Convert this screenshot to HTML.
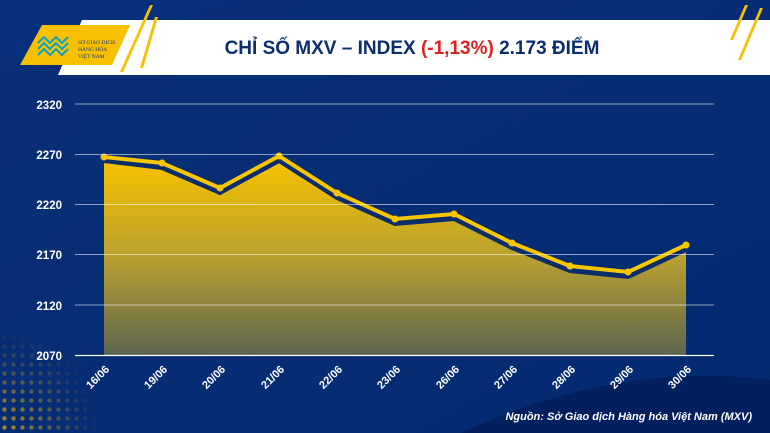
<!DOCTYPE html>
<html><head><meta charset="utf-8"><style>
html,body{margin:0;padding:0;width:770px;height:433px;overflow:hidden;background:#042a6e;}
svg{display:block}
</style></head><body>
<svg width="770" height="433" viewBox="0 0 770 433" xmlns="http://www.w3.org/2000/svg">
<defs>
<linearGradient id="bg" x1="0" y1="0" x2="1" y2="1">
<stop offset="0" stop-color="#0a2f78"/><stop offset="1" stop-color="#032a70"/></linearGradient>
<linearGradient id="fill" x1="0" y1="0" x2="0" y2="1">
<stop offset="0" stop-color="#f7c200"/><stop offset="0.5" stop-color="#b8a030"/><stop offset="1" stop-color="#5e6650"/></linearGradient>
<radialGradient id="dots" cx="0" cy="1" r="1"><stop offset="0" stop-color="#f5b800"/><stop offset="1" stop-color="#f5b800" stop-opacity="0"/></radialGradient>
<pattern id="dp" width="9" height="9" patternUnits="userSpaceOnUse"><circle cx="4.5" cy="4.5" r="2.2" fill="#f5b800"/></pattern>
<mask id="dm"><rect x="0" y="330" width="100" height="103" fill="url(#dots)"/></mask>
</defs>
<rect width="770" height="433" fill="url(#bg)"/>
<path d="M0 0 L240 0 Q120 50 0 60 Z" fill="#08317e" opacity="0.6"/>
<path d="M460 433 Q620 360 770 380 L770 433 Z" fill="#021f5e"/>
<rect x="0" y="330" width="100" height="103" fill="url(#dp)" mask="url(#dm)"/>
<!-- title band -->
<polygon points="82,20 770,20 770,75 58,75" fill="#fff"/>
<polygon points="42,25 130,25 112,65 20,65" fill="#f7c000"/>
<polygon points="120,72 150,5 153,5 123,72" fill="#f7c000"/>
<polygon points="140,68 155,17 158,17 143,68" fill="#f7c000"/>
<polygon points="730,40 745,5 748,5 733,40" fill="#f7c000"/>
<polygon points="738,60 760,8 763,8 741,60" fill="#f7c000"/>
<g fill="none" stroke="#0aa3c8" stroke-width="2">
<path d="M38 43 l6 -6 l6 6 l6 -6 l6 6 l6 -6"/><path d="M38 49 l6 -6 l6 6 l6 -6 l6 6 l6 -6"/><path d="M38 55 l6 -6 l6 6 l6 -6 l6 6 l6 -6"/></g>
<text x="78" y="44" font-family="Liberation Serif,serif" font-size="5.5" fill="#1a3a7a">SỞ GIAO DỊCH</text>
<text x="78" y="51" font-family="Liberation Serif,serif" font-size="5.5" fill="#1a3a7a">HÀNG HÓA</text>
<text x="78" y="58" font-family="Liberation Serif,serif" font-size="5.5" fill="#1a3a7a">VIỆT NAM</text>
<text x="412" y="54" text-anchor="middle" font-family="Liberation Sans,sans-serif" font-weight="bold" font-size="19" fill="#0b2e6e">CHỈ SỐ MXV – INDEX <tspan fill="#e0201e">(-1,13%)</tspan> 2.173 ĐIỂM</text>
<!-- area -->
<polygon points="104,161 162,168 220,193 279,161 337,198 395,224 454,219 512,248 570,271 628,277 686,250 686,355 104,355" fill="url(#fill)"/>
<polyline points="104,161 162,168 220,193 279,161 337,198 395,224 454,219 512,248 570,271 628,277 686,250" fill="none" stroke="#0c2c6a" stroke-width="4"/>
<polyline points="104,157 162,163 220,188 279,156 337,193 395,219 454,214 512,243 570,266 628,272 686,245" fill="none" stroke="#f7c600" stroke-width="4"/>
<g fill="#f7c600"><circle cx="104" cy="157" r="3.5"/><circle cx="162" cy="163" r="3.5"/><circle cx="220" cy="188" r="3.5"/><circle cx="279" cy="156" r="3.5"/><circle cx="337" cy="193" r="3.5"/><circle cx="395" cy="219" r="3.5"/><circle cx="454" cy="214" r="3.5"/><circle cx="512" cy="243" r="3.5"/><circle cx="570" cy="266" r="3.5"/><circle cx="628" cy="272" r="3.5"/><circle cx="686" cy="245" r="3.5"/></g>
<!-- grid -->
<g stroke="#fff" stroke-width="1" opacity="0.55"><line x1="75" y1="104" x2="714" y2="104"/><line x1="75" y1="154.5" x2="714" y2="154.5"/><line x1="75" y1="204.5" x2="714" y2="204.5"/><line x1="75" y1="254.5" x2="714" y2="254.5"/><line x1="75" y1="305" x2="714" y2="305"/></g>
<line x1="75" y1="355.5" x2="714" y2="355.5" stroke="#fff" stroke-width="1.2"/>
<g font-family="Liberation Sans,sans-serif" font-weight="bold" font-size="11.5" fill="#fff" text-anchor="end">
<text x="62" y="109">2320</text><text x="62" y="159">2270</text><text x="62" y="209">2220</text><text x="62" y="259">2170</text><text x="62" y="310">2120</text><text x="62" y="360">2070</text></g>
<g font-family="Liberation Sans,sans-serif" font-weight="bold" font-size="11" fill="#fff" text-anchor="end">
<text transform="translate(110,370) rotate(-45)">16/06</text>
<text transform="translate(168,370) rotate(-45)">19/06</text>
<text transform="translate(226,370) rotate(-45)">20/06</text>
<text transform="translate(285,370) rotate(-45)">21/06</text>
<text transform="translate(343,370) rotate(-45)">22/06</text>
<text transform="translate(401,370) rotate(-45)">23/06</text>
<text transform="translate(460,370) rotate(-45)">26/06</text>
<text transform="translate(518,370) rotate(-45)">27/06</text>
<text transform="translate(576,370) rotate(-45)">28/06</text>
<text transform="translate(634,370) rotate(-45)">29/06</text>
<text transform="translate(692,370) rotate(-45)">30/06</text></g>
<text x="752" y="420" text-anchor="end" font-family="Liberation Sans,sans-serif" font-weight="bold" font-style="italic" font-size="11" fill="#fff">Nguồn: Sở Giao dịch Hàng hóa Việt Nam (MXV)</text>
</svg>
</body></html>
